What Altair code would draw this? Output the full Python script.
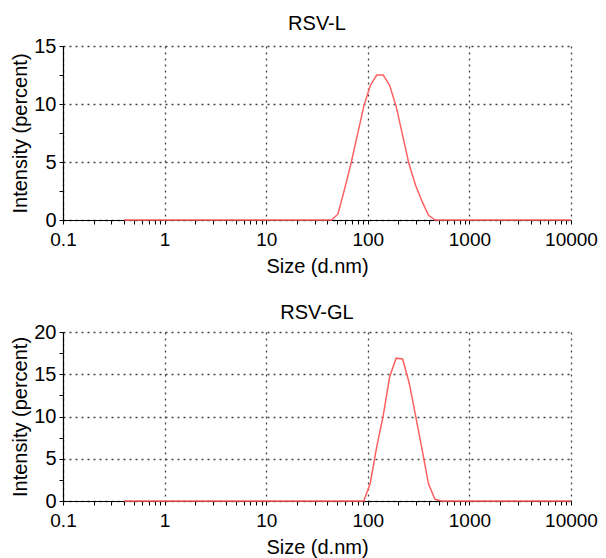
import altair as alt
import pandas as pd

# Malvern-style size bins (d.nm)
sizes = [0.4, 0.4632, 0.5365, 0.6213, 0.7195, 0.8332, 0.9649, 1.117, 1.294, 1.499,
         1.736, 2.010, 2.328, 2.696, 3.122, 3.615, 4.187, 4.849, 5.615, 6.503,
         7.531, 8.721, 10.10, 11.70, 13.54, 15.69, 18.17, 21.04, 24.36, 28.21,
         32.67, 37.84, 43.82, 50.75, 58.77, 68.06, 78.82, 91.28, 105.7, 122.4,
         141.8, 164.2, 190.1, 220.2, 255.0, 295.3, 342.0, 396.1, 458.7, 531.2,
         615.1, 712.4, 825.0, 955.4, 1106, 1281, 1484, 1718, 1990, 2305,
         2669, 3091, 3580, 4145, 4801, 5560, 6439, 7456, 8635, 10000]

rsv_l = [0, 0, 0, 0, 0, 0, 0, 0, 0, 0,
         0, 0, 0, 0, 0, 0, 0, 0, 0, 0,
         0, 0, 0, 0, 0, 0, 0, 0, 0, 0,
         0, 0, 0, 0.5, 2.6, 4.8, 7.3, 9.8, 11.6, 12.5,
         12.5, 11.6, 9.8, 7.3, 4.8, 3.0, 1.6, 0.4, 0, 0,
         0, 0, 0, 0, 0, 0, 0, 0, 0, 0,
         0, 0, 0, 0, 0, 0, 0, 0, 0, 0]

rsv_gl = [0, 0, 0, 0, 0, 0, 0, 0, 0, 0,
          0, 0, 0, 0, 0, 0, 0, 0, 0, 0,
          0, 0, 0, 0, 0, 0, 0, 0, 0, 0,
          0, 0, 0, 0, 0, 0, 0, 0, 2.1, 6.4,
          10.1, 14.7, 16.9, 16.8, 14.0, 10.1, 6.1, 2.0, 0.2, 0,
          0, 0, 0, 0, 0, 0, 0, 0, 0, 0,
          0, 0, 0, 0, 0, 0, 0, 0, 0, 0]

titles = ["RSV-L", "RSV-GL"]
y_max = [15, 20]

FONT = "Liberation Sans"
x_ticks = [m * 10 ** e for e in range(-1, 4) for m in range(1, 10)] + [10000]
MAJOR_X = "abs(log(datum.value)/LN10 - round(log(datum.value)/LN10)) < 0.000001"
MAJOR_Y = "abs(datum.value/5 - round(datum.value/5)) < 0.000001"


def panel(title, values, ymax, height, title_offset):
    df = pd.DataFrame({"size": sizes, "intensity": values})
    y_ticks = [i * 2.5 for i in range(int(ymax / 2.5) + 1)]
    return alt.Chart(df).mark_line(color="#ff6060", strokeWidth=1.5).encode(
        x=alt.X("size:Q",
                scale=alt.Scale(type="log", domain=[0.1, 10000], nice=False),
                axis=alt.Axis(values=x_ticks, title="Size (d.nm)",
                              labelExpr=f"{MAJOR_X} ? format(datum.value, '~g') : ''",
                              labelOverlap=False, labelFlush=False, labelFontSize=19,
                              gridOpacity={"condition": {"test": MAJOR_X, "value": 1}, "value": 0},
                              tickSize=4, labelPadding=6, titlePadding=7)),
        y=alt.Y("intensity:Q",
                scale=alt.Scale(domain=[0, ymax], nice=False),
                axis=alt.Axis(values=y_ticks, title="Intensity (percent)",
                              labelExpr=f"{MAJOR_Y} ? format(datum.value, 'd') : ''",
                              labelOverlap=False, labelFlush=False,
                              gridOpacity={"condition": {"test": MAJOR_Y, "value": 1}, "value": 0},
                              tickSize=4, labelPadding=3, titlePadding=3)),
    ).properties(width=508, height=height,
                 title=alt.TitleParams(title, offset=title_offset))


chart = alt.vconcat(
    panel(titles[0], rsv_l, y_max[0], 174, 2),
    panel(titles[1], rsv_gl, y_max[1], 169, -1),
    spacing=25,
).properties(
    padding={"left": 2, "top": 5, "right": 0, "bottom": 0},
    background="white",
).configure_axis(
    labelFont=FONT, titleFont=FONT, labelFontSize=20, titleFontSize=20,
    titleFontWeight="normal", labelColor="black", titleColor="black",
    domainColor="black", tickColor="black", domainWidth=1.2,
    gridColor="#444444", gridDash=[2, 4], gridWidth=1.3,
).configure_title(
    font=FONT, fontSize=20, fontWeight="normal", color="black", anchor="middle",
).configure_view(
    stroke="transparent",
)

chart.save("out.html", embed_options={"renderer": "svg", "actions": False})
